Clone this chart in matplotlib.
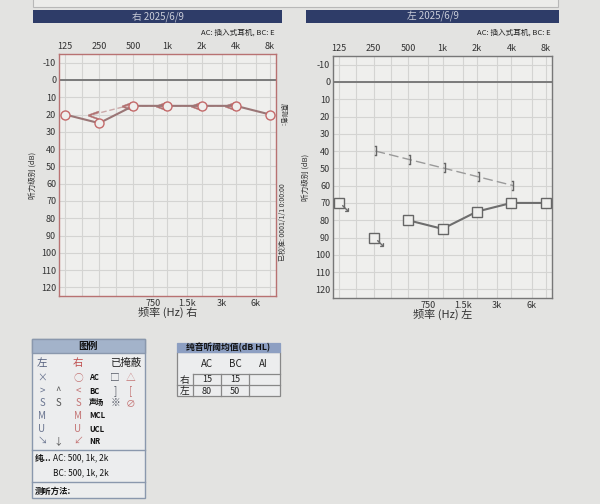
import numpy as np
import matplotlib
matplotlib.use("Agg")
import matplotlib.pyplot as plt
from matplotlib.patches import Rectangle
from matplotlib.transforms import offset_copy

plt.rcParams['font.family'] = ['Noto Sans CJK SC', 'DejaVu Sans']
plt.rcParams['axes.unicode_minus'] = False

# ---------------- data ----------------
freqs = [125, 250, 500, 1000, 2000, 4000, 8000]
top_labels = ['125', '250', '500', '1k', '2k', '4k', '8k']
half_freqs = [177, 354, 750, 1500, 3000, 6000]
half_labels = ['', '', '750', '1.5k', '3k', '6k']
db_ticks = list(range(-10, 121, 10))

right_ac = [20, 25, 15, 15, 15, 15, 20]
right_bc_freqs = [250, 500, 1000, 2000, 4000]
right_bc = [20, 15, 15, 15, 15]

left_ac = [70, 90, 80, 85, 75, 70, 70]
left_ac_nr = [True, True, False, False, False, False, False]
left_bc_freqs = [250, 500, 1000, 2000, 4000]
left_bc = [40, 45, 50, 55, 60]

date_str = '2025/6/9'
transducer = 'AC: 插入式耳机, BC: E'
avg_cols = ['AC', 'BC', 'AI']
avg_rows = ['右', '左']
avg_ac = [15, 80]
avg_bc = [15, 50]
avg_ai = ['', '']

W, H = 600, 504
fig = plt.figure(figsize=(6, 5.04), dpi=100, facecolor='#e3e3e1')


def P(x, y):
    return (x / W, 1 - y / H)


def rect(x0, y0, x1, y1, **kw):
    r = Rectangle(P(x0, y1), (x1 - x0) / W, (y1 - y0) / H,
                  transform=fig.transFigure, **kw)
    fig.add_artist(r)
    return r


def hline(x0, x1, y, **kw):
    fig.add_artist(plt.Line2D([x0 / W, x1 / W], [1 - y / H, 1 - y / H],
                              transform=fig.transFigure, **kw))


def vline(x, y0, y1, **kw):
    fig.add_artist(plt.Line2D([x / W, x / W], [1 - y0 / H, 1 - y1 / H],
                              transform=fig.transFigure, **kw))


def T(x, y, s, **kw):
    kw.setdefault('ha', 'center')
    kw.setdefault('va', 'center')
    fig.text(x / W, 1 - y / H, s, **kw)


# top page box remnant
rect(33, -5, 558, 7, facecolor='#ececea', edgecolor='#b8b8b8', lw=0.8)

ax1 = fig.add_axes([59 / W, 1 - 296 / H, 217 / W, 242 / H])
ax2 = fig.add_axes([333 / W, 1 - 298 / H, 219 / W, 242 / H])


def setup(ax, spine_color, ear):
    ax.set_facecolor('#efefed')
    ax.set_xscale('log', base=2)
    ax.set_xlim(125 * 2 ** -0.175, 8000 * 2 ** 0.175)
    ax.set_ylim(125, -15)
    ax.set_xticks(freqs)
    ax.set_xticklabels(top_labels)
    ax.set_xticks(half_freqs, minor=True)
    ax.set_xticklabels(half_labels, minor=True)
    ax.tick_params(axis='x', which='major', length=0, labeltop=True,
                   labelbottom=False, pad=2, labelsize=6.5, colors='#333333')
    ax.tick_params(axis='x', which='minor', length=0, labelbottom=True,
                   labeltop=False, pad=2, labelsize=6.5, colors='#333333')
    ax.set_yticks(db_ticks)
    ax.tick_params(axis='y', length=0, pad=2, labelsize=6.5, colors='#333333')
    ax.grid(True, which='both', color='#d4d4d2', lw=0.8)
    ax.axhline(0, color='#7a7a7a', lw=1.4, zorder=2)
    for s in ax.spines.values():
        s.set_color(spine_color)
        s.set_linewidth(1.0)
    ax.set_ylabel('听力级别 (dB)', fontsize=5.5, color='#333333')
    ax.yaxis.set_label_coords(-0.105, 0.5)
    ax.set_xlabel('频率 (Hz) ' + ear, fontsize=8, color='#333333')
    ax.xaxis.set_label_coords(0.5, -0.045)


setup(ax1, '#b87272', '右')
setup(ax2, '#777777', '左')

# ----- right ear -----
bc_tr = offset_copy(ax1.transData, fig=fig, x=-6, y=0, units='dots')
ax1.plot(right_bc_freqs, right_bc, ls=(0, (4, 2)), color='#c9a8a8', lw=1.0,
         marker='$<$', ms=7.5, mec='#b07070', mfc='#b07070', mew=0.3,
         transform=bc_tr, zorder=3)
ax1.plot(freqs, right_ac, color='#9a7676', lw=1.5, marker='o', ms=6.5,
         mfc='#efefed', mec='#c46a6a', mew=1.0, zorder=4)

# ----- left ear -----
left_resp = np.where(np.array(left_ac_nr), np.nan, np.array(left_ac, float))
lbc_tr = offset_copy(ax2.transData, fig=fig, x=2, y=0, units='dots')
ax2.plot(left_bc_freqs, left_bc, ls=(0, (7, 3)), color='#9a9a9a', lw=1.0,
         marker='$]$', ms=7.5, mec='#666666', mfc='#666666', mew=0.3,
         transform=lbc_tr, zorder=3)
ax2.plot(freqs, left_resp, color='#6e6e6e', lw=1.5, zorder=3)
ax2.plot(freqs, left_ac, ls='none', marker='s', ms=7, mfc='#efefed',
         mec='#666666', mew=1.0, zorder=4)
nr_f = [f for f, n in zip(freqs, left_ac_nr) if n]
nr_v = [v for v, n in zip(left_ac, left_ac_nr) if n]
nr_tr = offset_copy(ax2.transData, fig=fig, x=6, y=-5, units='dots')
ax2.plot(nr_f, nr_v, ls='none', marker=r'$\searrow$', ms=5, mew=0.2,
         color='#666666', transform=nr_tr, zorder=5)

# ----- side notes on right-ear chart -----
T(283, 114, '原测者:', fontsize=5, rotation=270, color='#333333')
T(283, 222, '已校准: 0001/1/1 0:00:00', fontsize=5, rotation=90, color='#333333')

# ----- title bars -----
for (x0, x1, ear, sub_x) in [(33, 282, '右', 275), (306, 559, '左', 551)]:
    rect(x0, 10, x1, 23, facecolor='#2e3c68', edgecolor='none')
    T((x0 + x1) / 2, 16.5, ear + ' ' + date_str, fontsize=7, color='#c9ccd8')
    T(sub_x, 33, transducer, fontsize=5.5, ha='right', color='#222222')

# ----- legend box -----
rect(32, 339, 145, 498, facecolor='#ecedee', edgecolor='#8a98ad', lw=1.0)
rect(32, 339, 145, 353, facecolor='#a3b3ca', edgecolor='#8a98ad', lw=1.0)
T(88, 346, '图例', fontsize=7, fontweight='bold', color='#111111')
c_left, c_mid, c_right = '#6a7590', '#555555', '#c47474'
T(42, 363, '左', fontsize=7.5, color='#55607e')
T(78, 363, '右', fontsize=7.5, color='#c05050')
T(126, 363, '已掩蔽', fontsize=7.5, color='#222222')
leg_rows = [378, 391, 403, 416, 429, 441]
col_l = ['×', '>', 'S', 'M', 'U', '↘']
col_m = ['', '^', 'S', '', '', '↓']
col_r = ['○', '<', 'S', 'M', 'U', '↙']
col_lab = ['AC', 'BC', '声场', 'MCL', 'UCL', 'NR']
col_m1 = ['□', ']', '※', '', '', '']
col_m2 = ['△', '[', '∅', '', '', '']
for i, y in enumerate(leg_rows):
    T(42, y, col_l[i], fontsize=7, color=c_left)
    T(58, y, col_m[i], fontsize=7, color=c_mid)
    T(78, y, col_r[i], fontsize=7, color=c_right)
    T(89, y, col_lab[i], fontsize=5.5, fontweight='bold', ha='left', color='#111111')
    T(115, y, col_m1[i], fontsize=7, color='#555a66')
    T(131, y, col_m2[i], fontsize=7, color=c_right)
hline(32, 145, 450, color='#8a98ad', lw=1.0)
T(35, 458, '纯...', fontsize=6, fontweight='bold', ha='left', color='#111111')
T(53, 458, 'AC: 500, 1k, 2k', fontsize=6, ha='left', color='#111111')
T(53, 473, 'BC: 500, 1k, 2k', fontsize=6, ha='left', color='#111111')
hline(32, 145, 482, color='#8a98ad', lw=1.0)
T(35, 491, '测听方法:', fontsize=6, fontweight='bold', ha='left', color='#111111')

# ----- average table -----
rect(177, 352, 280, 396, facecolor='#ecedee', edgecolor='#888888', lw=0.9)
rect(177, 343, 280, 352, facecolor='#8d9fc2', edgecolor='#8d9fc2', lw=0.9)
T(228.5, 347.5, '纯音听阈均值(dB HL)', fontsize=6.3, fontweight='bold', color='#111111')
col_x = [207, 235, 263]
for cx, name in zip(col_x, avg_cols):
    T(cx, 364, name, fontsize=7, color='#222222')
hline(193, 280, 374, color='#888888', lw=0.9)
hline(177, 280, 385, color='#888888', lw=0.9)
for vx in [193, 221, 249]:
    vline(vx, 374, 396, color='#888888', lw=0.9)
row_y = [379.5, 391]
for ry, lab, a, b, c in zip(row_y, avg_rows, avg_ac, avg_bc, avg_ai):
    T(185, ry, lab, fontsize=7, color='#222222')
    T(col_x[0], ry, str(a), fontsize=6.5, color='#222222')
    T(col_x[1], ry, str(b), fontsize=6.5, color='#222222')
    T(col_x[2], ry, str(c), fontsize=6.5, color='#222222')

fig.savefig('out.png', dpi=100, facecolor=fig.get_facecolor())
